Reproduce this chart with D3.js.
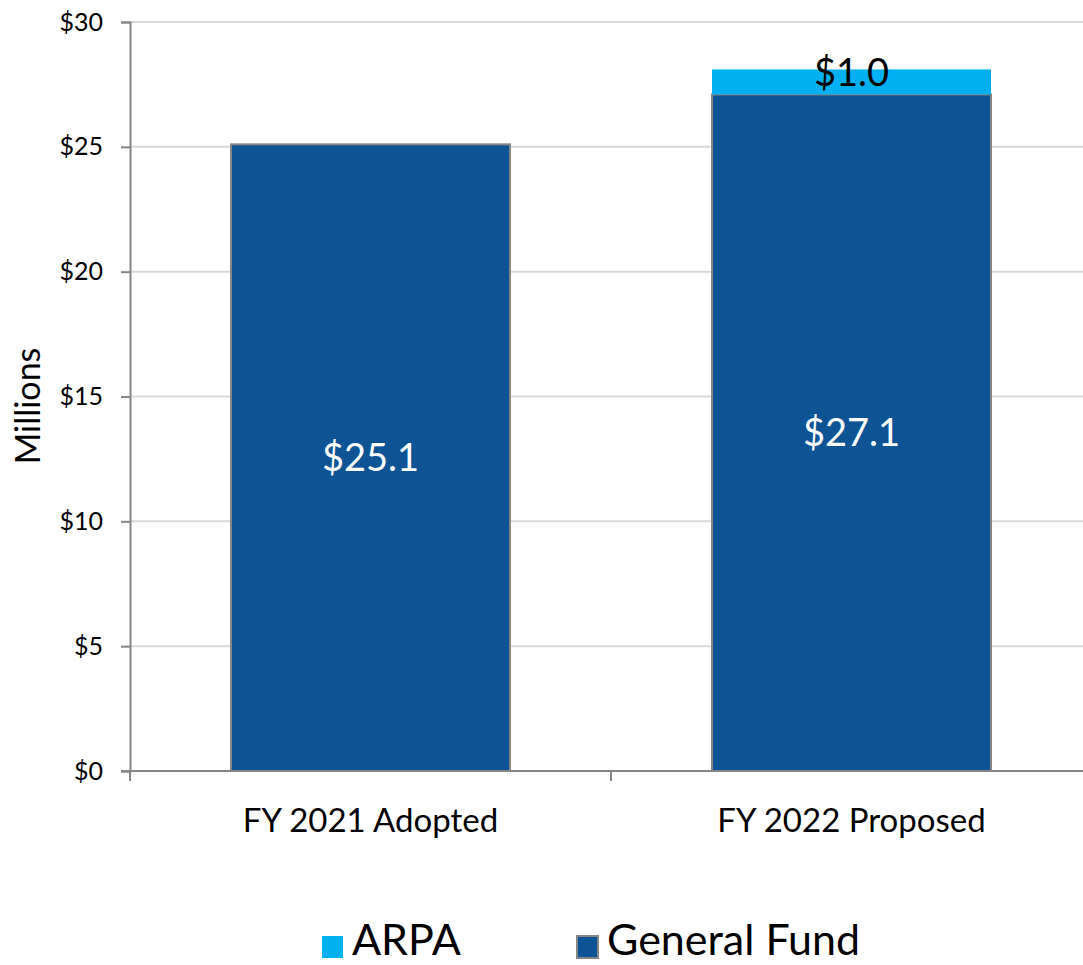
<!DOCTYPE html>
<html>
<head>
<meta charset="utf-8">
<script src="https://cdn.jsdelivr.net/npm/d3@7"></script>
<style>
  body { margin: 0; background: #fff; }
  text { font-family: Lato, "Open Sans", sans-serif; }
</style>
</head>
<body>
<div id="viz"></div>
<script>
const width = 1083;
const height = 965;
const margin = {top: 22, right: -9, bottom: 194, left: 130};

const categories = ['FY 2021 Adopted', 'FY 2022 Proposed'];
const generalFund = [25.1, 27.1];
const arpa = [0, 1.0];
const yTicks = [0, 5, 10, 15, 20, 25, 30];

const series = [
  { key: 'generalFund', label: 'General Fund', color: '#0e5394', stroke: '#868686', textColor: '#fff', dy: '0.35em' },
  { key: 'arpa', label: 'ARPA', color: '#00b0f0', stroke: 'none', textColor: '#000', dy: '0.1em' }
];

const svg = d3.select('#viz').append('svg')
  .attr('width', width)
  .attr('height', height);

const x = d3.scaleBand()
  .domain(categories)
  .range([margin.left, width - margin.right])
  .paddingInner(0.42)
  .paddingOuter(0.21);

const y = d3.scaleLinear()
  .domain([0, 30])
  .range([height - margin.bottom, margin.top]);

// gridlines
svg.append('g')
  .selectAll('line')
  .data(yTicks.filter(d => d > 0))
  .join('line')
    .attr('x1', margin.left)
    .attr('x2', width)
    .attr('y1', d => y(d))
    .attr('y2', d => y(d))
    .attr('stroke', '#d9d9d9')
    .attr('stroke-width', 2);

// stacked bars
const rows = categories.map((c, i) => ({ cat: c, generalFund: generalFund[i], arpa: arpa[i] }));
const stacked = d3.stack().keys(['generalFund', 'arpa'])(rows);

stacked.forEach((layer, li) => {
  const s = series[li];
  const parts = layer.filter(d => d[1] - d[0] > 0);
  svg.append('g')
    .selectAll('rect')
    .data(parts)
    .join('rect')
      .attr('x', d => x(d.data.cat))
      .attr('width', x.bandwidth())
      .attr('y', d => y(d[1]))
      .attr('height', d => y(d[0]) - y(d[1]))
      .attr('fill', s.color)
      .attr('stroke', s.stroke)
      .attr('stroke-width', 2);

  // value labels
  svg.append('g')
    .selectAll('text')
    .data(parts)
    .join('text')
      .attr('x', d => x(d.data.cat) + x.bandwidth() / 2)
      .attr('y', d => y((d[0] + d[1]) / 2))
      .attr('dy', s.dy)
      .attr('text-anchor', 'middle')
      .attr('fill', s.textColor)
      .style('font-size', '38px')
      .text(d => '$' + (d[1] - d[0]).toFixed(1));
});

// y axis
const yAxis = d3.axisLeft(y)
  .tickValues(yTicks)
  .tickSize(9)
  .tickPadding(18)
  .tickFormat(d => '$' + d);

const gy = svg.append('g')
  .attr('transform', `translate(${margin.left},0)`)
  .call(yAxis);
gy.select('.domain').attr('stroke', '#868686').attr('stroke-width', 2);
gy.selectAll('.tick line').attr('stroke', '#868686').attr('stroke-width', 2);
gy.selectAll('.tick text')
  .style('font-family', 'Lato, sans-serif')
  .style('font-size', '25px')
  .attr('fill', '#000');

// x axis
const gx = svg.append('g')
  .attr('transform', `translate(0,${y(0)})`);
gx.append('line')
  .attr('x1', margin.left - 9)
  .attr('x2', width)
  .attr('stroke', '#868686')
  .attr('stroke-width', 2);
const boundaries = [margin.left, x(categories[1]) - x.step() * x.paddingInner() / 2];
gx.selectAll('.sep')
  .data(boundaries)
  .join('line')
    .attr('x1', d => d)
    .attr('x2', d => d)
    .attr('y1', 0)
    .attr('y2', 10)
    .attr('stroke', '#868686')
    .attr('stroke-width', 2);
gx.selectAll('.cat')
  .data(categories)
  .join('text')
    .attr('x', d => x(d) + x.bandwidth() / 2)
    .attr('y', 61)
    .attr('text-anchor', 'middle')
    .style('font-size', '33px')
    .attr('fill', '#000')
    .text(d => d);

// y axis title
svg.append('text')
  .attr('transform', `translate(40,406) rotate(-90)`)
  .attr('text-anchor', 'middle')
  .style('font-size', '34px')
  .attr('fill', '#000')
  .text('Millions');

// legend
const legend = [
  { label: 'ARPA', color: '#00b0f0', stroke: 'none', x: 322 },
  { label: 'General Fund', color: '#0e5394', stroke: '#868686', x: 577 }
];
const lg = svg.append('g').selectAll('g')
  .data(legend)
  .join('g')
    .attr('transform', d => `translate(${d.x},936)`);
lg.append('rect')
  .attr('width', 21)
  .attr('height', 22)
  .attr('fill', d => d.color)
  .attr('stroke', d => d.stroke)
  .attr('stroke-width', 2);
lg.append('text')
  .attr('x', 30)
  .attr('y', 19)
  .style('font-size', '43px')
  .attr('fill', '#000')
  .text(d => d.label);
</script>
</body>
</html>
